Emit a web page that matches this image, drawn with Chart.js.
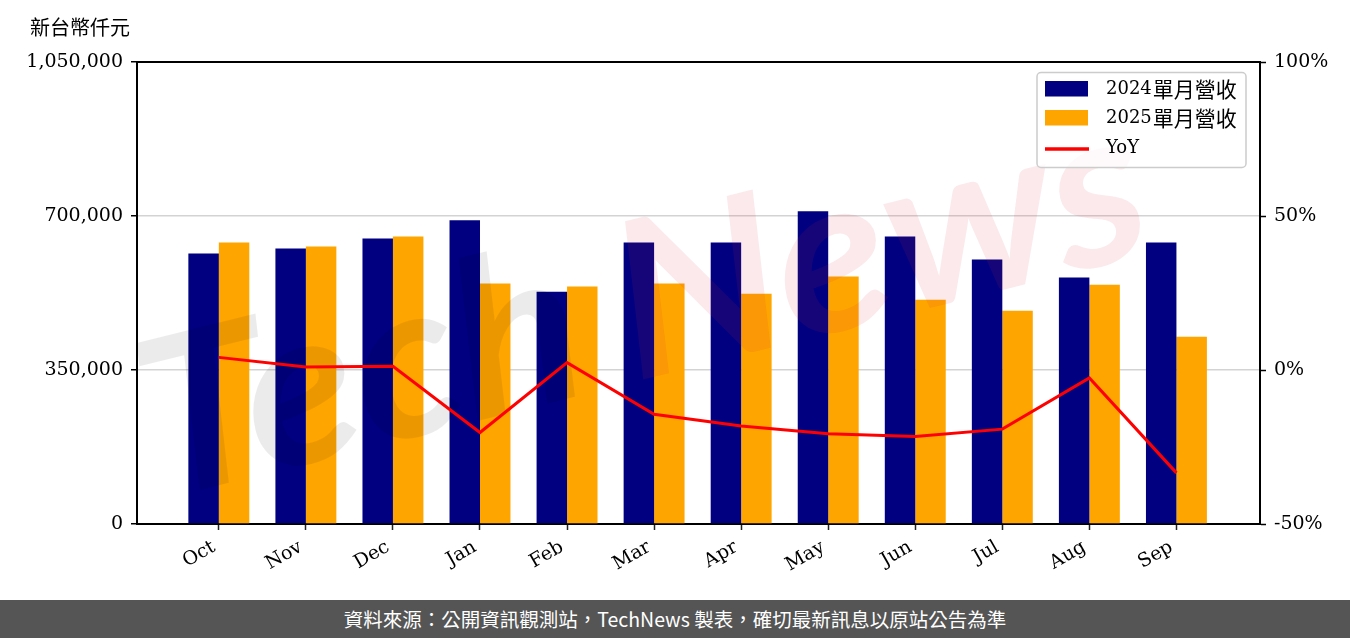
<!DOCTYPE html>
<html><head><meta charset="utf-8">
<script src="https://cdn.jsdelivr.net/npm/chart.js@4.4.0/dist/chart.umd.min.js"></script>
<style>
html,body{margin:0;padding:0;background:#fff;width:1350px;height:638px;overflow:hidden}
#wrap{position:relative;width:1350px;height:600px}
#footer{width:1350px;height:38px;background:#555555;color:#fff;font:19.5px 'Noto Sans CJK TC',sans-serif;text-align:center;line-height:38px;white-space:nowrap}
</style></head><body>
<div id="wrap"><canvas id="c" width="1350" height="600"></canvas></div>
<div id="footer">資料來源：公開資訊觀測站，TechNews 製表，確切最新訊息以原站公告為準</div>
<script>
const months = ['Oct','Nov','Dec','Jan','Feb','Mar','Apr','May','Jun','Jul','Aug','Sep'];
const rev2024 = [614800, 626300, 649100, 690200, 528100, 640000, 640000, 710700, 653600, 601100, 560000, 640000];
const rev2025 = [640000, 630800, 653600, 546400, 539500, 546400, 523500, 562300, 509800, 484700, 544000, 425300];
const yoy = [4.1, 1.0, 1.2, -20.3, 2.4, -14.4, -18.2, -20.7, -21.6, -19.2, -2.6, -33.4];
const leftTicks = [0, 350000, 700000, 1050000];
const rightTicks = [-50, 0, 50, 100];
const seriesLabels = ['2024單月營收', '2025單月營收', 'YoY'];
const unitLabel = '新台幣仟元';

const NAVY = '#000080', ORANGE = '#FFA500', RED = '#FF0000';
const tickFont = {family: "'DejaVu Serif', 'Noto Sans CJK TC', serif", size: 19};

const watermark = {
  id: 'watermark',
  beforeDatasetDraw(chart, args) {
    if (args.meta.type !== 'line') return;
    const ctx = chart.ctx;
    const ca = chart.chartArea;
    ctx.save();
    ctx.beginPath();
    ctx.rect(ca.left, ca.top, ca.right - ca.left, ca.bottom - ca.top);
    ctx.clip();
    ctx.translate(160, 500);
    ctx.rotate(-14 * Math.PI / 180);
    ctx.font = "italic bold 230px Lato, 'DejaVu Sans', sans-serif";
    const w1 = ctx.measureText('Tech').width, w2 = ctx.measureText('News').width;
    const sx = 1030 / (w1 + w2 + 40);
    ctx.scale(sx, 0.95);
    ctx.textBaseline = 'alphabetic';
    ctx.fillStyle = 'rgba(0,0,0,0.08)';
    ctx.fillText('Tech', 0, 0);
    ctx.fillStyle = 'rgba(215,40,60,0.10)';
    ctx.fillText('News', w1 + 40, 0);
    ctx.restore();
  }
};

const decor = {
  id: 'decor',
  afterDraw(chart) {
    const ctx = chart.ctx;
    const ca = chart.chartArea;
    ctx.save();
    ctx.strokeStyle = '#000';
    ctx.lineWidth = 2;
    ctx.beginPath();
    ctx.moveTo(ca.left - 1, ca.top);
    ctx.lineTo(ca.right + 1, ca.top);
    ctx.stroke();
    ctx.fillStyle = '#000';
    ctx.font = "20px 'Noto Sans CJK TC', sans-serif";
    ctx.textBaseline = 'middle';
    ctx.textAlign = 'left';
    ctx.fillText(unitLabel, 30, 27);
    const bx = 1037, by = 72.5, bw = 209, bh = 95;
    ctx.beginPath();
    ctx.roundRect(bx, by, bw, bh, 4);
    ctx.fillStyle = 'rgba(255,255,255,0.8)';
    ctx.fill();
    ctx.strokeStyle = '#cccccc';
    ctx.lineWidth = 1.5;
    ctx.stroke();
    const ds = chart.data.datasets;
    const items = [ds[1], ds[2], ds[0]];
    const rowY = [89, 118, 148];
    items.forEach((d, i) => {
      const y = rowY[i];
      if (d.type === 'line') {
        ctx.strokeStyle = d.borderColor;
        ctx.lineWidth = 3.5;
        ctx.beginPath();
        ctx.moveTo(1045, y + 1);
        ctx.lineTo(1089, y + 1);
        ctx.stroke();
      } else {
        ctx.fillStyle = d.backgroundColor;
        ctx.fillRect(1045, y - 8, 43, 15.5);
      }
      ctx.fillStyle = '#000';
      ctx.textBaseline = 'middle';
      const m = d.label.match(/^([0-9A-Za-z]+)(.*)$/);
      const lat = m ? m[1] : '', cjk = m ? m[2] : d.label;
      ctx.font = "18px 'DejaVu Serif', serif";
      ctx.fillText(lat, 1106, y);
      const lw = ctx.measureText(lat).width;
      ctx.font = "21px 'Noto Sans CJK TC', sans-serif";
      ctx.fillText(cjk, 1106 + lw + 1, y);
    });
    ctx.restore();
  }
};

new Chart(document.getElementById('c'), {
  type: 'bar',
  data: {
    datasets: [
      {type: 'line', label: seriesLabels[2], data: yoy.map((v, i) => ({x: i, y: v})), yAxisID: 'yR', xAxisID: 'x',
       borderColor: RED, backgroundColor: RED, borderWidth: 3, pointRadius: 0, tension: 0, order: 0},
      {type: 'bar', label: seriesLabels[0], data: rev2024.map((v, i) => ({x: i, y: v})), yAxisID: 'y', xAxisID: 'x',
       backgroundColor: NAVY, categoryPercentage: 0.7, barPercentage: 1.0, order: 1},
      {type: 'bar', label: seriesLabels[1], data: rev2025.map((v, i) => ({x: i, y: v})), yAxisID: 'y', xAxisID: 'x',
       backgroundColor: ORANGE, categoryPercentage: 0.7, barPercentage: 1.0, order: 1}
    ]
  },
  options: {
    responsive: false,
    animation: false,
    layout: {padding: {top: 62, left: 0, right: 0, bottom: 0}},
    plugins: {legend: {display: false}, tooltip: {enabled: false}},
    scales: {
      x: {
        type: 'linear', min: -0.94, max: 11.96, offset: false,
        afterBuildTicks: s => { s.ticks = months.map((m, i) => ({value: i})); },
        afterFit: s => { s.height = 76; },
        ticks: {callback: v => months[v], autoSkip: false, minRotation: 30, maxRotation: 30, font: tickFont, color: '#000', padding: 6, labelOffset: -5},
        grid: {display: true, offset: false, drawOnChartArea: false, drawTicks: true, tickLength: 6, tickColor: '#222', tickWidth: 1.5},
        border: {display: true, color: '#000', width: 2}
      },
      y: {
        position: 'left', min: 0, max: 1050000,
        afterBuildTicks: s => { s.ticks = leftTicks.map(v => ({value: v})); },
        afterFit: s => { s.width = 137; },
        ticks: {callback: v => v.toLocaleString('en-US'), font: tickFont, color: '#000', padding: 8},
        grid: {color: c => (c.tick && (c.tick.value === 0 || c.tick.value === 1050000)) ? 'rgba(0,0,0,0)' : '#d3d3d3',
               lineWidth: 1.5, tickColor: '#000', tickLength: 6, tickWidth: 1.5},
        border: {display: true, color: '#000', width: 2}
      },
      yR: {
        position: 'right', min: -50, max: 100,
        afterBuildTicks: s => { s.ticks = rightTicks.map(v => ({value: v})); },
        afterFit: s => { s.width = 90; },
        ticks: {callback: v => v + '%', font: tickFont, color: '#000', padding: 8},
        grid: {drawOnChartArea: false, tickColor: '#000', tickLength: 6, tickWidth: 1.5},
        border: {display: true, color: '#000', width: 2}
      }
    }
  },
  plugins: [watermark, decor]
});
</script>
</body></html>
